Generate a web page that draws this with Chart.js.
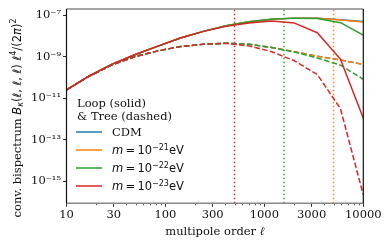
<!DOCTYPE html>
<html>
<head>
<meta charset="utf-8">
<script src="https://cdn.jsdelivr.net/npm/chart.js@4.4.1/dist/chart.umd.min.js"></script>
<style>
  html, body { margin: 0; padding: 0; background: #fff; }
  canvas { display: block; }
</style>
</head>
<body>
<canvas id="chart" width="390" height="247"></canvas>
<script>
// multipole order grid (log spaced)
const ellValues = [10, 17, 29, 49, 84, 142, 242, 411, 699, 1187, 2018, 3430, 5878, 10000];

// loop bispectrum (solid lines)
const loopCDM  = [2.57e-11, 1.20e-10, 4.47e-10, 1.26e-9, 3.31e-9, 8.1e-9, 1.70e-8, 3.16e-8, 5.0e-8, 6.46e-8, 7.41e-8, 7.41e-8, 6.17e-8, 5.13e-8];
const loopM21  = [2.57e-11, 1.20e-10, 4.47e-10, 1.26e-9, 3.31e-9, 8.1e-9, 1.70e-8, 3.16e-8, 5.0e-8, 6.46e-8, 7.41e-8, 7.41e-8, 6.03e-8, 4.79e-8];
const loopM22  = [2.57e-11, 1.20e-10, 4.47e-10, 1.26e-9, 3.31e-9, 8.1e-9, 1.70e-8, 3.16e-8, 5.0e-8, 6.46e-8, 7.41e-8, 7.08e-8, 4.47e-8, 1.12e-8];
const loopM23  = [2.57e-11, 1.20e-10, 4.47e-10, 1.26e-9, 3.31e-9, 8.1e-9, 1.70e-8, 3.02e-8, 4.27e-8, 5.37e-8, 4.27e-8, 1.45e-8, 7.6e-10, 1.10e-12];

// tree bispectrum (dashed lines)
const treeCDM  = [2.57e-11, 1.17e-10, 4.17e-10, 1.02e-9, 1.95e-9, 3.16e-9, 4.07e-9, 4.57e-9, 4.07e-9, 2.82e-9, 1.78e-9, 1.07e-9, 7.1e-10, 4.27e-10];
const treeM21  = [2.57e-11, 1.17e-10, 4.17e-10, 1.02e-9, 1.95e-9, 3.16e-9, 4.07e-9, 4.57e-9, 4.07e-9, 2.82e-9, 1.78e-9, 1.07e-9, 7.1e-10, 4.37e-10];
const treeM22  = [2.57e-11, 1.17e-10, 4.17e-10, 1.02e-9, 1.95e-9, 3.16e-9, 4.07e-9, 4.57e-9, 4.07e-9, 2.82e-9, 1.70e-9, 8.9e-10, 3.98e-10, 8.3e-11];
const treeM23  = [2.57e-11, 1.17e-10, 4.17e-10, 1.02e-9, 1.95e-9, 3.16e-9, 4.07e-9, 4.47e-9, 3.39e-9, 1.78e-9, 6.46e-10, 1.41e-10, 3.16e-12, 2.19e-16];

// vertical dotted markers (one per FDM mass)
const cutoffEll = [500, 1580, 5000];   // m=1e-23, 1e-22, 1e-21

// axes
const xMin = 10, xMax = 10000;
const yMin = 8.63e-17, yMax = 2.065e-7;
const xTickValues = [10, 30, 100, 300, 1000, 3000, 10000];
const xTickLabels = ['10', '30', '100', '300', '1000', '3000', '10000'];
const xMinorTicks = [20, 40, 50, 60, 70, 80, 90, 200, 400, 500, 600, 700, 800, 900,
                     2000, 4000, 5000, 6000, 7000, 8000, 9000];
const yTickValues = [1e-15, 1e-13, 1e-11, 1e-9, 1e-7];
const yTickLabels = ['10⁻¹⁵', '10⁻¹³', '10⁻¹¹', '10⁻⁹', '10⁻⁷'];

const legendNames = ['CDM', '-21', '-22', '-23'];

const BLUE = '#1f77b4', ORANGE = '#ff7f0e', GREEN = '#2ca02c', RED = '#d62728';
const modelColors = [BLUE, ORANGE, GREEN, RED];

function toPoints(vals) {
    return vals.map((v, i) => ({ x: ellValues[i], y: v }));
}

function lineSet(vals, color, dashed, order) {
    return {
        data: toPoints(vals),
        borderColor: color,
        backgroundColor: color,
        borderWidth: 1.5,
        borderDash: dashed ? [5.5, 2.4] : [],
        pointRadius: 0,
        tension: 0,
        fill: false,
        borderJoinStyle: 'round',
        order: order
    };
}

function vlineSet(ell, color, order) {
    return {
        data: [{ x: ell, y: yMin }, { x: ell, y: yMax }],
        borderColor: color,
        borderWidth: 1.5,
        borderDash: [1.5, 2.5],
        pointRadius: 0,
        fill: false,
        order: order
    };
}

const datasets = [
    lineSet(loopM23, RED, false, 0),
    lineSet(treeM23, RED, true, 1),
    lineSet(loopM22, GREEN, false, 2),
    lineSet(treeM22, GREEN, true, 3),
    lineSet(loopM21, ORANGE, false, 4),
    lineSet(treeM21, ORANGE, true, 5),
    lineSet(loopCDM, BLUE, false, 6),
    lineSet(treeCDM, BLUE, true, 7),
    vlineSet(cutoffEll[0], RED, 8),
    vlineSet(cutoffEll[1], GREEN, 9),
    vlineSet(cutoffEll[2], ORANGE, 10)
];

const SERIF = '"DejaVu Serif", serif';
const SANS = '"DejaVu Sans", sans-serif';

// draw a run of mixed-font text pieces; returns width
function richWidth(ctx, parts) {
    let w = 0;
    parts.forEach(p => { ctx.font = p[1]; w += ctx.measureText(p[0]).width; });
    return w;
}
function drawRich(ctx, parts, x, y) {
    let cx = x;
    parts.forEach(p => {
        ctx.font = p[1];
        ctx.fillText(p[0], cx, y + (p[2] || 0));
        cx += ctx.measureText(p[0]).width;
    });
}

const decorPlugin = {
    id: 'decor',
    afterDraw(chart) {
        const ctx = chart.ctx;
        const a = chart.chartArea;
        const xs = chart.scales.x;
        ctx.save();

        // minor x ticks
        ctx.strokeStyle = '#333';
        ctx.lineWidth = 0.8;
        xMinorTicks.forEach(v => {
            const px = Math.round(xs.getPixelForValue(v)) + 0.5;
            ctx.beginPath();
            ctx.moveTo(px, a.bottom);
            ctx.lineTo(px, a.bottom + 2);
            ctx.stroke();
        });

        // frame
        ctx.lineWidth = 1.5;
        ctx.strokeStyle = '#888';
        ctx.beginPath();
        ctx.moveTo(a.left, a.top); ctx.lineTo(a.right, a.top);
        ctx.moveTo(a.left, a.bottom); ctx.lineTo(a.right, a.bottom);
        ctx.stroke();
        ctx.lineWidth = 1.2;
        ctx.strokeStyle = '#111';
        ctx.beginPath();
        ctx.moveTo(a.left, a.top); ctx.lineTo(a.left, a.bottom);
        ctx.moveTo(a.right, a.top); ctx.lineTo(a.right, a.bottom);
        ctx.stroke();

        // legend
        const fs = 11.5;
        ctx.fillStyle = '#111';
        ctx.textBaseline = 'alphabetic';
        ctx.textAlign = 'left';
        ctx.font = fs + 'px ' + SERIF;
        ctx.fillText('Loop (solid)', 77, 106.5);
        ctx.fillText('& Tree (dashed)', 77, 119.5);
        legendNames.forEach((name, i) => {
            const ly = 132 + i * 18;
            ctx.strokeStyle = modelColors[i];
            ctx.lineWidth = 1.5;
            ctx.setLineDash([]);
            ctx.beginPath();
            ctx.moveTo(76, ly);
            ctx.lineTo(102, ly);
            ctx.stroke();
            if (name === 'CDM') {
                ctx.font = fs + 'px ' + SERIF;
                ctx.fillText(name, 112, ly + 4.2);
            } else {
                drawRich(ctx, [
                    ['m', 'italic ' + fs + 'px ' + SANS],
                    ['\u2009=\u2009', fs + 'px ' + SANS],
                    ['10', fs + 'px ' + SANS],
                    ['−' + name.slice(1), '8px ' + SANS, -4.5],
                    ['eV', fs + 'px ' + SANS]
                ], 112, ly + 4.2);
            }
        });

        // y-axis title, rotated
        const big = fs + 'px ';
        const yParts = [
            ['conv. bispectrum ', big + SERIF],
            ['B', 'italic ' + big + SANS],
            ['κ', 'italic 8px ' + SANS, 2.5],
            ['(', big + SANS],
            ['ℓ', 'italic ' + big + SANS],
            [', ', big + SANS],
            ['ℓ', 'italic ' + big + SANS],
            [', ', big + SANS],
            ['ℓ', 'italic ' + big + SANS],
            [') ', big + SANS],
            ['ℓ', 'italic ' + big + SANS],
            ['4', '8px ' + SANS, -4.5],
            ['/(2', big + SANS],
            ['π', 'italic ' + big + SANS],
            [')', big + SANS],
            ['2', '8px ' + SANS, -4.5]
        ];
        ctx.translate(20.5, 118);
        ctx.rotate(-Math.PI / 2);
        const w = richWidth(ctx, yParts);
        drawRich(ctx, yParts, -w / 2, 0);
        ctx.restore();

        // x-axis title
        ctx.save();
        ctx.fillStyle = '#111';
        ctx.textBaseline = 'alphabetic';
        const xParts = [['multipole order ', big + SERIF], ['ℓ', 'italic ' + big + SERIF]];
        const xw = richWidth(ctx, xParts);
        drawRich(ctx, xParts, (a.left + a.right) / 2 - xw / 2, 235);
        ctx.restore();
    }
};

const ctx = document.getElementById('chart').getContext('2d');
const chart = new Chart(ctx, {
    type: 'line',
    data: { datasets: datasets },
    options: {
        responsive: false,
        animation: false,
        devicePixelRatio: 1,
        layout: { padding: { top: 6.7, right: 26.7, left: 0, bottom: 0 } },
        plugins: { legend: { display: false }, tooltip: { enabled: false } },
        scales: {
            x: {
                type: 'logarithmic',
                min: xMin,
                max: xMax,
                afterBuildTicks: (scale) => { scale.ticks = xTickValues.map(v => ({ value: v })); },
                afterFit: (scale) => { scale.height = 43.7; },
                border: { display: false },
                grid: { drawOnChartArea: false, tickLength: 3.5, tickColor: '#333', tickWidth: 1 },
                ticks: {
                    autoSkip: false,
                    maxRotation: 0,
                    padding: 1,
                    color: '#111',
                    font: { family: 'DejaVu Serif', size: 11.5 },
                    callback: (value, index) => xTickLabels[index]
                }
            },
            y: {
                type: 'logarithmic',
                min: yMin,
                max: yMax,
                afterBuildTicks: (scale) => { scale.ticks = yTickValues.map(v => ({ value: v })); },
                afterFit: (scale) => { scale.width = 66.5; },
                border: { display: false },
                grid: { drawOnChartArea: false, tickLength: 3.5, tickColor: '#333', tickWidth: 1 },
                ticks: {
                    padding: 2,
                    color: '#111',
                    font: { family: 'DejaVu Serif', size: 11.5 },
                    callback: (value, index) => yTickLabels[index]
                }
            }
        }
    },
    plugins: [decorPlugin]
});
</script>
</body>
</html>
